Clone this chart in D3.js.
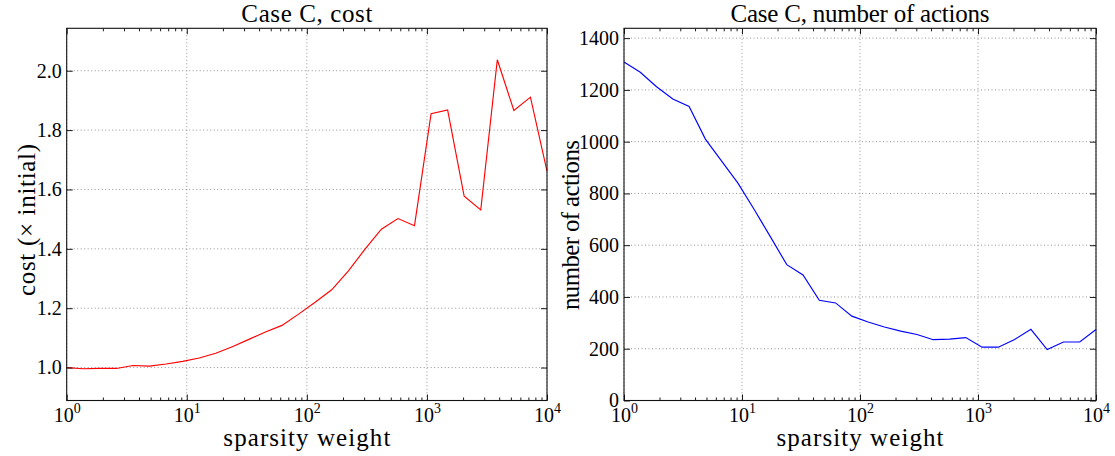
<!DOCTYPE html>
<html>
<head>
<meta charset="utf-8">
<script src="https://cdn.jsdelivr.net/npm/d3@7"></script>
<style>
  html, body { margin: 0; padding: 0; background: #fff; }
  svg { display: block; }
  text { font-family: "Liberation Serif", "DejaVu Serif", serif; fill: #000; }
</style>
</head>
<body>
<svg id="chart" width="1115" height="456"></svg>
<script>
// ---- data ----
const sparsityWeight = [1, 1.374, 1.887, 2.593, 3.562, 4.894, 6.723, 9.237, 12.69, 17.43,
  23.95, 32.90, 45.20, 62.10, 85.32, 117.2, 161.0, 221.2, 303.9, 417.5,
  573.6, 788.0, 1083, 1487, 2043, 2807, 3857, 5298, 7279, 10000];
const costValues = [1.000, 0.996, 0.997, 0.997, 1.007, 1.005, 1.012, 1.021, 1.032, 1.048,
  1.070, 1.095, 1.120, 1.142, 1.180, 1.220, 1.262, 1.325, 1.398, 1.466,
  1.502, 1.478, 1.855, 1.868, 1.577, 1.531, 2.037, 1.866, 1.911, 1.662];
const actionValues = [1308, 1268, 1212, 1165, 1136, 1010, 925, 840, 738, 632,
  525, 485, 387, 377, 326, 303, 284, 268, 255, 235,
  237, 243, 206, 206, 236, 275, 197, 226, 226, 274];
const xTickExps = [0, 1, 2, 3, 4];
const costTicks = [1.0, 1.2, 1.4, 1.6, 1.8, 2.0];
const actionTicks = [0, 200, 400, 600, 800, 1000, 1200, 1400];
const titles = ["Case C, cost", "Case C, number of actions"];
const xLabel = "sparsity weight";
const yLabels = ["cost (\u00d7 initial)", "number of actions"];

const svg = d3.select("#chart");
const plotTop = 28.3, plotBottom = 400.5;

const minorVals = [];
for (let e = 0; e < 4; e++) for (let m = 2; m <= 9; m++) minorVals.push(m * Math.pow(10, e));

function panel(opts) {
  const x = d3.scaleLog().domain([1, 10000]).range([opts.left, opts.right]);
  const y = d3.scaleLinear().domain(opts.yDomain).range([plotBottom, plotTop]);
  const g = svg.append("g");

  // grid
  const grid = g.append("g").attr("stroke", "#7a7a7a").attr("stroke-width", 0.8)
    .attr("stroke-dasharray", "1,2.5").attr("fill", "none");
  xTickExps.forEach(e => {
    const v = Math.pow(10, e);
    grid.append("line").attr("x1", x(v)).attr("x2", x(v)).attr("y1", plotTop).attr("y2", plotBottom);
  });
  opts.yTicks.forEach(t => {
    grid.append("line").attr("x1", opts.left).attr("x2", opts.right).attr("y1", y(t)).attr("y2", y(t));
  });

  // line
  const line = d3.line().x((d, i) => x(sparsityWeight[i])).y(d => y(d));
  g.append("path").datum(opts.values).attr("d", line)
    .attr("fill", "none").attr("stroke", opts.color).attr("stroke-width", 1.15)
    .attr("stroke-linejoin", "miter");

  // axes with inward ticks
  const majors = xTickExps.map(e => Math.pow(10, e));
  const axB = g.append("g").attr("transform", `translate(0,${plotBottom})`)
    .call(d3.axisBottom(x).tickValues(majors).tickSize(-6).tickFormat(""));
  const axBm = g.append("g").attr("transform", `translate(0,${plotBottom})`)
    .call(d3.axisBottom(x).tickValues(minorVals).tickSize(-3).tickFormat(""));
  const axT = g.append("g").attr("transform", `translate(0,${plotTop})`)
    .call(d3.axisTop(x).tickValues(majors).tickSize(-6).tickFormat(""));
  const axTm = g.append("g").attr("transform", `translate(0,${plotTop})`)
    .call(d3.axisTop(x).tickValues(minorVals).tickSize(-3).tickFormat(""));
  const axL = g.append("g").attr("transform", `translate(${opts.left},0)`)
    .call(d3.axisLeft(y).tickValues(opts.yTicks).tickSize(-6).tickPadding(8).tickFormat(opts.fmt));
  const axR = g.append("g").attr("transform", `translate(${opts.right},0)`)
    .call(d3.axisRight(y).tickValues(opts.yTicks).tickSize(-6).tickFormat(""));
  [axB, axBm, axT, axTm, axL, axR].forEach(a => {
    a.select(".domain").remove();
    a.attr("font-family", null);
    a.selectAll(".tick line").attr("stroke", "#000").attr("stroke-width", 0.9);
  });
  axL.selectAll(".tick text")
    .style("font-size", "20px").attr("fill", "#000").attr("x", -5);

  // x tick labels with superscripts
  axB.selectAll(".tick").each(function(d) {
    const t = d3.select(this).append("text").attr("y", 21).attr("text-anchor", "middle")
      .style("font-size", "20px").attr("fill", "#000");
    t.append("tspan").text("10");
    t.append("tspan").attr("dy", -8.5).style("font-size", "14px").text(String(Math.round(Math.log10(d))));
  });

  // frame
  g.append("rect").attr("x", opts.left).attr("y", plotTop)
    .attr("width", opts.right - opts.left).attr("height", plotBottom - plotTop)
    .attr("fill", "none").attr("stroke", "#111").attr("stroke-width", 1.1);

  // title
  g.append("text").attr("x", (opts.left + opts.right) / 2).attr("y", 22)
    .attr("text-anchor", "middle").style("font-size", "25px")
    .attr("textLength", opts.titleLen).attr("lengthAdjust", "spacing").text(opts.title);
  // x label
  g.append("text").attr("x", (opts.left + opts.right) / 2).attr("y", 446)
    .attr("text-anchor", "middle").style("font-size", "25px")
    .attr("textLength", 167).attr("lengthAdjust", "spacing").text(xLabel);
  // y label
  g.append("text").attr("transform", `translate(${opts.ylabelX},${opts.ylabelY}) rotate(-90)`)
    .attr("text-anchor", "middle").style("font-size", "25px")
    .attr("textLength", opts.ylabelLen).attr("lengthAdjust", "spacing").text(opts.ylabel);
}

panel({ left: 66.7, right: 547, yDomain: [0.889, 2.143], yTicks: costTicks,
  fmt: d3.format(".1f"), values: costValues, color: "#ff0000",
  title: titles[0], titleLen: 131, ylabel: yLabels[0], ylabelX: 35, ylabelY: 220, ylabelLen: 152 });
panel({ left: 624, right: 1096, yDomain: [0, 1438], yTicks: actionTicks,
  fmt: d3.format("d"), values: actionValues, color: "#0000ff",
  title: titles[1], titleLen: 259, ylabel: yLabels[1], ylabelX: 579, ylabelY: 225, ylabelLen: 170 });
</script>
</body>
</html>
